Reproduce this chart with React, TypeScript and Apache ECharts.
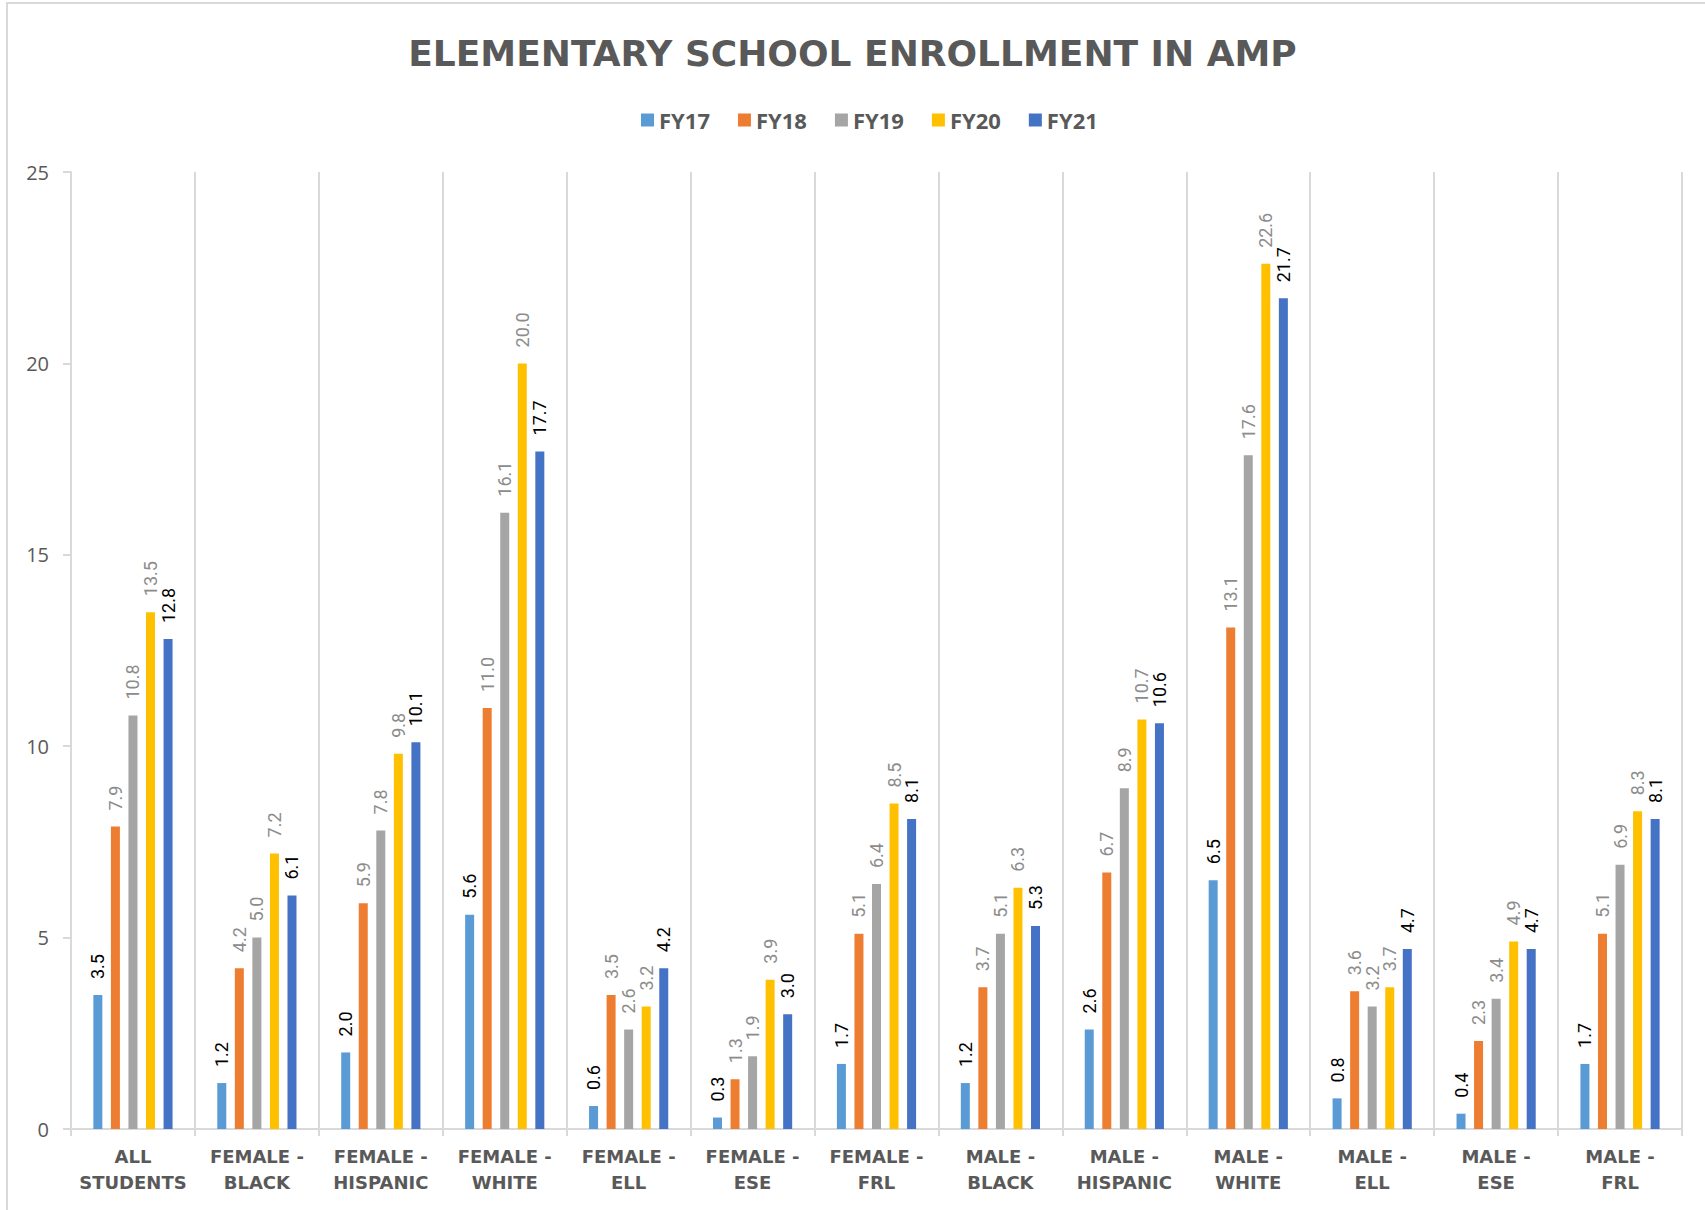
import React, { useEffect, useRef } from "react";
import * as echarts from "echarts";

const categories = [
  "ALL\nSTUDENTS",
  "FEMALE -\nBLACK",
  "FEMALE -\nHISPANIC",
  "FEMALE -\nWHITE",
  "FEMALE -\nELL",
  "FEMALE -\nESE",
  "FEMALE -\nFRL",
  "MALE -\nBLACK",
  "MALE -\nHISPANIC",
  "MALE -\nWHITE",
  "MALE -\nELL",
  "MALE -\nESE",
  "MALE -\nFRL",
];

const fy17 = [3.5, 1.2, 2.0, 5.6, 0.6, 0.3, 1.7, 1.2, 2.6, 6.5, 0.8, 0.4, 1.7];
const fy18 = [7.9, 4.2, 5.9, 11.0, 3.5, 1.3, 5.1, 3.7, 6.7, 13.1, 3.6, 2.3, 5.1];
const fy19 = [10.8, 5.0, 7.8, 16.1, 2.6, 1.9, 6.4, 5.1, 8.9, 17.6, 3.2, 3.4, 6.9];
const fy20 = [13.5, 7.2, 9.8, 20.0, 3.2, 3.9, 8.5, 6.3, 10.7, 22.6, 3.7, 4.9, 8.3];
const fy21 = [12.8, 6.1, 10.1, 17.7, 4.2, 3.0, 8.1, 5.3, 10.6, 21.7, 4.7, 4.7, 8.1];

const seriesNames = ["FY17", "FY18", "FY19", "FY20", "FY21"];
const seriesData = [fy17, fy18, fy19, fy20, fy21];
const seriesColors = ["#5B9BD5", "#ED7D31", "#A5A5A5", "#FFC000", "#4472C4"];
const labelColors = ["#000000", "#8c8c8c", "#8c8c8c", "#8c8c8c", "#000000"];

const yTicks = { min: 0, max: 25, interval: 5 };

export default function App() {
  const ref = useRef<HTMLDivElement>(null);

  useEffect(() => {
    if (!ref.current) return;
    const chart = echarts.init(ref.current, null, { renderer: "svg" });
    chart.setOption({
      animation: false,
      backgroundColor: "#ffffff",
      graphic: [
        {
          type: "rect",
          shape: { x: 7, y: 3, width: 1720, height: 1230 },
          style: { fill: "none", stroke: "#d9d9d9", lineWidth: 2 },
          silent: true,
        },
      ],
      title: {
        text: "ELEMENTARY SCHOOL ENROLLMENT IN AMP",
        left: "center",
        top: 30,
        textStyle: {
          fontFamily: "DejaVu Sans",
          fontWeight: "bold",
          fontSize: 36,
          color: "#595959",
        },
      },
      legend: {
        top: 104,
        left: 636,
        icon: "rect",
        itemWidth: 13,
        itemHeight: 13,
        itemGap: 28,
        textStyle: {
          fontFamily: "Open Sans",
          fontWeight: "bold",
          fontSize: 22,
          color: "#595959",
        },
        data: seriesNames,
      },
      grid: { left: 71, right: 23, top: 172, bottom: 81, containLabel: false },
      xAxis: {
        type: "category",
        data: categories,
        axisLine: { show: true, lineStyle: { color: "#d9d9d9", width: 2 } },
        axisTick: { show: true, length: 7, lineStyle: { color: "#d9d9d9", width: 2 } },
        splitLine: { show: true, lineStyle: { color: "#d9d9d9", width: 2 } },
        axisLabel: {
          interval: 0,
          margin: 14,
          lineHeight: 26,
          fontFamily: "DejaVu Sans",
          fontWeight: "bold",
          fontSize: 18,
          color: "#595959",
        },
      },
      yAxis: {
        type: "value",
        min: yTicks.min,
        max: yTicks.max,
        interval: yTicks.interval,
        axisLine: { show: true, lineStyle: { color: "#d9d9d9", width: 2 } },
        axisTick: { show: true, length: 8, lineStyle: { color: "#d9d9d9", width: 2 } },
        splitLine: { show: false },
        axisLabel: {
          margin: 22,
          fontFamily: "Open Sans",
          fontSize: 20,
          color: "#595959",
        },
      },
      series: seriesNames.map((name, i) => ({
        name,
        type: "bar",
        data: seriesData[i],
        barWidth: 9,
        barGap: "95%",
        itemStyle: { color: seriesColors[i] },
        label: {
          show: true,
          position: "top",
          rotate: 90,
          align: "left",
          verticalAlign: "middle",
          distance: 16,
          fontFamily: "Roboto",
          fontSize: 18,
          color: labelColors[i],
          formatter: (p: any) => Number(p.value).toFixed(1),
        },
      })),
    });
    return () => chart.dispose();
  }, []);

  return (
    <div
      ref={ref}
      style={{ position: "fixed", left: 0, top: 0, width: 1705, height: 1210 }}
    />
  );
}
